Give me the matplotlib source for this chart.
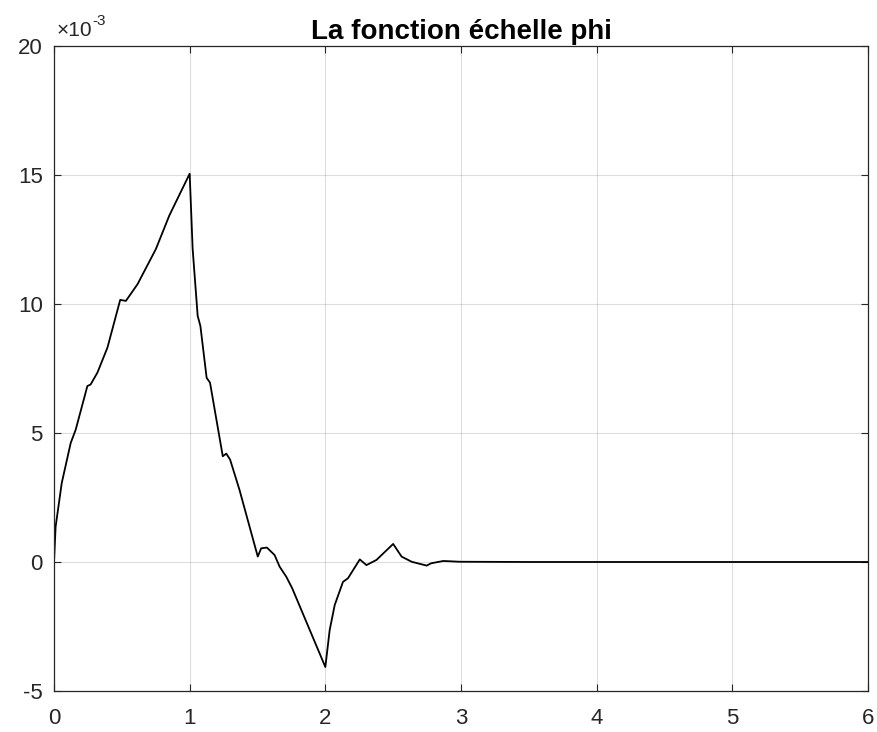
import matplotlib
matplotlib.use("Agg")
import matplotlib.pyplot as plt

# valeurs (y en unites de 1e-3)
x = [0, 0.012, 0.057, 0.123, 0.16, 0.246, 0.27, 0.32, 0.394, 0.488, 0.53, 0.616,
     0.751, 0.85, 1.0, 1.022, 1.059, 1.079, 1.125, 1.15, 1.244, 1.27, 1.298, 1.367,
     1.502, 1.527, 1.569, 1.626, 1.663, 1.712, 1.756, 2.0, 2.032, 2.069, 2.13, 2.167,
     2.254, 2.303, 2.377, 2.5, 2.562, 2.636, 2.747, 2.78, 2.87, 2.99, 3.5, 4.0, 5.0, 6.0]
y = [0, 1.37, 3.06, 4.61, 5.13, 6.82, 6.88, 7.34, 8.31, 10.16, 10.12, 10.77,
     12.13, 13.43, 15.05, 12.13, 9.54, 9.15, 7.14, 6.95, 4.10, 4.2, 3.97, 2.80,
     0.21, 0.53, 0.56, 0.27, -0.18, -0.57, -1.02, -4.07, -2.64, -1.67, -0.77, -0.63,
     0.10, -0.12, 0.08, 0.70, 0.21, 0.01, -0.14, -0.05, 0.04, 0.01, 0.0, 0.0, 0.0, 0.0]
xticks = [0, 1, 2, 3, 4, 5, 6]
yticks = [-5, 0, 5, 10, 15, 20]

plt.rcParams['font.family'] = ['Liberation Sans', 'DejaVu Sans']
plt.rcParams['axes.unicode_minus'] = False
axc = '#262626'

fig = plt.figure(figsize=(8.78, 7.32), dpi=100)
ax = fig.add_axes([54 / 878, 1 - 691 / 732, 814 / 878, 645 / 732])
ax.plot(x, y, color='black', lw=1.3)
ax.set_xlim(0, 6)
ax.set_ylim(-5, 20)
ax.set_xticks(xticks)
ax.set_yticks(yticks)
ax.grid(True, color='#262626', alpha=0.15, lw=0.8)
ax.tick_params(direction='in', top=True, right=True, length=5, width=0.8,
               colors=axc, labelsize=16, labelcolor=axc)
ax.tick_params(axis='x', pad=12)
ax.tick_params(axis='y', pad=8)
for s in ax.spines.values():
    s.set_color(axc)
    s.set_linewidth(0.9)
ax.set_title('La fonction échelle phi', fontsize=20, fontweight='bold', pad=5)
ax.annotate('×10', xy=(0, 1), xycoords='axes fraction', xytext=(2, 4),
            textcoords='offset points', fontsize=15, color=axc, ha='left', va='bottom')
ax.annotate('-3', xy=(0, 1), xycoords='axes fraction', xytext=(27.5, 13),
            textcoords='offset points', fontsize=11, color=axc, ha='left', va='bottom')
fig.savefig('out.png', dpi=100)
